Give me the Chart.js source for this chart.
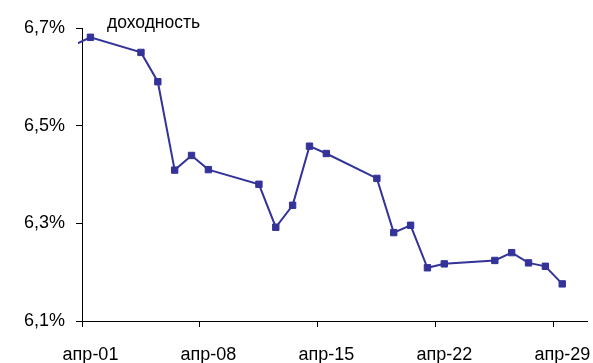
<!DOCTYPE html>
<html>
<head>
<meta charset="utf-8">
<script src="https://cdn.jsdelivr.net/npm/chart.js@4/dist/chart.umd.min.js"></script>
<style>
  html, body { margin: 0; padding: 0; background: #fff; }
  #wrap { width: 593px; height: 363px; }
</style>
</head>
<body>
<div id="wrap"><canvas id="c" width="593" height="363"></canvas></div>
<script>
// Daily yield, March 31 – April 29 (trading days only)
const dates = [
  '2011-03-31', '2011-04-01', '2011-04-04', '2011-04-05', '2011-04-06', '2011-04-07',
  '2011-04-08', '2011-04-11', '2011-04-12', '2011-04-13', '2011-04-14', '2011-04-15',
  '2011-04-18', '2011-04-19', '2011-04-20', '2011-04-21', '2011-04-22', '2011-04-25',
  '2011-04-26', '2011-04-27', '2011-04-28', '2011-04-29'
];
const yieldPct = [
  6.665, 6.681, 6.650, 6.590, 6.409, 6.439,
  6.410, 6.380, 6.292, 6.337, 6.458, 6.443,
  6.392, 6.281, 6.296, 6.209, 6.217, 6.224,
  6.240, 6.219, 6.212, 6.176
];
const seriesName = 'доходность';

// Axis ticks
const xTickLabels = ['апр-01', 'апр-08', 'апр-15', 'апр-22', 'апр-29'];
const yTicks = [6.1, 6.3, 6.5, 6.7];

const DAY = 86400000;
const start = Date.UTC(2011, 3, 1);
// each day occupies one unit; the value sits in the middle of its day
const dayPos = s => {
  const [y, m, d] = s.split('-').map(Number);
  return (Date.UTC(y, m - 1, d) - start) / DAY + 0.5;
};
const points = dates.map((d, i) => ({ x: dayPos(d), y: yieldPct[i] }));
const xTickValues = xTickLabels.map((_, i) => i * 7);

const FONT = { family: '"Liberation Sans", Arial, sans-serif', size: 18 };
const INK = '#000';
const LINE = '#333399';

const captionPlugin = {
  id: 'caption',
  afterDraw(chart) {
    const { ctx, chartArea } = chart;
    ctx.save();
    ctx.font = `17.5px ${FONT.family}`;
    ctx.fillStyle = INK;
    ctx.textAlign = 'left';
    ctx.textBaseline = 'alphabetic';
    ctx.fillText(seriesName, chartArea.left + 25, chartArea.top + 0.3);
    ctx.restore();
  }
};

new Chart(document.getElementById('c'), {
  type: 'line',
  data: {
    datasets: [{
      label: seriesName,
      data: points,
      borderColor: LINE,
      backgroundColor: LINE,
      borderWidth: 2,
      tension: 0,
      pointStyle: 'rect',
      pointRadius: 4.5,
      pointBorderWidth: 1,
      pointBorderColor: LINE,
      pointBackgroundColor: LINE,
      clip: { left: 4, right: 8, top: 8, bottom: 8 }
    }]
  },
  options: {
    responsive: false,
    animation: false,
    events: [],
    layout: { padding: { top: 28, right: 3, left: 0, bottom: 0 } },
    plugins: {
      legend: { display: false },
      title: { display: false },
      tooltip: { enabled: false }
    },
    scales: {
      x: {
        type: 'linear',
        position: 'bottom',
        min: 0,
        max: 30,
        afterBuildTicks: s => { s.ticks = xTickValues.map(v => ({ value: v })); },
        afterFit: s => { s.height = 42; s.paddingLeft = 0; s.paddingRight = 0; },
        ticks: {
          color: INK,
          font: FONT,
          padding: 17,
          labelOffset: 8.5,
          maxRotation: 0,
          autoSkip: false,
          callback: v => xTickLabels[xTickValues.indexOf(v)]
        },
        grid: { display: true, drawOnChartArea: false, drawTicks: true, tickLength: 6, color: INK },
        border: { display: true, color: INK, width: 1 }
      },
      y: {
        min: 6.1,
        max: 6.7,
        afterBuildTicks: s => { s.ticks = yTicks.map(v => ({ value: v })); },
        afterFit: s => { s.width = 82; s.paddingTop = 0; s.paddingBottom = 0; },
        ticks: {
          color: INK,
          font: FONT,
          padding: 11,
          callback: v => v.toFixed(1).replace('.', ',') + '%'
        },
        grid: { display: true, drawOnChartArea: false, drawTicks: true, tickLength: 6, color: INK },
        border: { display: true, color: INK, width: 1 }
      }
    }
  },
  plugins: [captionPlugin]
});
</script>
</body>
</html>
